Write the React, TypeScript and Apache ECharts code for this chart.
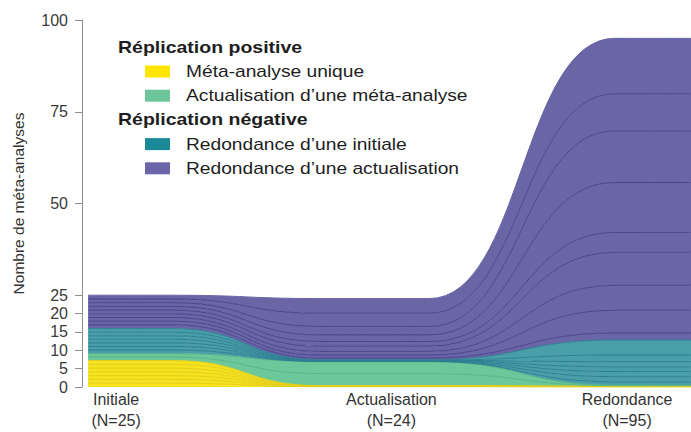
import React, { useEffect, useRef } from 'react';
import * as echarts from 'echarts';

// ---------- data ----------
const stages = ['Initiale', 'Actualisation', 'Redondance'];
const stageN = [25, 24, 95];
const yTicks = [0, 5, 10, 15, 20, 25, 50, 75, 100];

const groupTitles = ['Réplication positive', 'Réplication négative'];
const categoryNames = [
  'Méta-analyse unique',
  'Actualisation d’une méta-analyse',
  'Redondance d’une initiale',
  'Redondance d’une actualisation',
];

// thickness of each flow at [Initiale, Actualisation, Redondance], bottom to top
const uniqueFlows = [
  [1.03, 0.05, 0.03],
  [1.03, 0.05, 0.03],
  [1.03, 0.05, 0.03],
  [1.03, 0.05, 0.03],
  [1.03, 0.05, 0.03],
  [1.03, 0.05, 0.03],
  [1.03, 0.05, 0.03],
];
const updateFlows = [
  [0.95, 3.3, 0.15],
  [0.95, 3.25, 0.15],
];
const redundInitFlows = [
  [0.97, 0.07, 0.9],
  [0.97, 0.07, 1.4],
  [0.97, 0.07, 1.4],
  [0.97, 0.07, 1.3],
  [0.97, 0.07, 1.4],
  [0.97, 0.07, 1.8],
  [0.98, 0.08, 4.1],
];
const redundUpdFlows = [
  [1.01, 0.5, 1.9],
  [1.01, 0.8, 6.2],
  [1.01, 1.0, 6.8],
  [1.01, 1.4, 9.0],
  [1.01, 1.3, 5.4],
  [1.01, 1.8, 13.6],
  [1.01, 2.3, 14.1],
  [1.01, 3.6, 10.1],
  [1.02, 4.0, 15.1],
];

// ---------- layout / style ----------
const STAGE_SPAN = [[1, 15], [39, 57], [87.5, 100]];
const STAGE_LABEL_X = [5.6, 50.8, 89.5];
const FONT = '"Liberation Sans", Arial, Helvetica, sans-serif';

const groupsStyle = [
  { flows: uniqueFlows, fill: '#f6e21e', line: '#e3cf1a', swatch: '#ffe500' },
  { flows: updateFlows, fill: '#6cc79a', line: '#55b489', swatch: '#6cc59a' },
  { flows: redundInitFlows, fill: '#4a9ea9', line: '#2c7f92', swatch: '#1a8a99' },
  { flows: redundUpdFlows, fill: '#6a66a6', line: '#48438e', swatch: '#6b66aa' },
];

export default function App() {
  const ref = useRef<HTMLDivElement>(null);

  useEffect(() => {
    if (!ref.current) return;
    const chart = echarts.init(ref.current, null, { renderer: 'svg' });

    const series: any[] = [];
    groupsStyle.forEach((g, gi) => {
      g.flows.forEach((f, fi) => {
        const isTop = gi === groupsStyle.length - 1 && fi === g.flows.length - 1;
        series.push({
          type: 'line',
          name: categoryNames[gi] + ' ' + (fi + 1),
          stack: 'total',
          smooth: 0.5,
          smoothMonotone: 'x',
          symbol: 'none',
          showSymbol: false,
          silent: true,
          // value first so that stacking happens on the y value
          dimensions: ['value', 'pos'],
          encode: { x: 'pos', y: 'value' },
          data: STAGE_SPAN.flatMap((span, s) => span.map((x) => [f[s], x])),
          lineStyle: { color: isTop ? g.fill : g.line, width: 1 },
          areaStyle: { color: g.fill, opacity: 1 },
        });
      });
    });

    // legend built as graphic
    const graphic: any[] = [];
    const rowH = 24.2;
    const legendTop = 47.3;
    const rows: { kind: 'title' | 'item'; idx: number }[] = [
      { kind: 'title', idx: 0 },
      { kind: 'item', idx: 0 },
      { kind: 'item', idx: 1 },
      { kind: 'title', idx: 1 },
      { kind: 'item', idx: 2 },
      { kind: 'item', idx: 3 },
    ];
    rows.forEach((r, i) => {
      const y = legendTop + i * rowH;
      if (r.kind === 'title') {
        graphic.push({
          type: 'text',
          x: 118,
          y,
          z: 100,
          scaleX: 1.22,
          style: {
            text: groupTitles[r.idx],
            font: `bold 16px ${FONT}`,
            fill: '#1e1e1e',
            verticalAlign: 'middle',
            align: 'left',
          },
        });
      } else {
        graphic.push({
          type: 'rect',
          z: 100,
          shape: { x: 145, y: y - 6, width: 25, height: 12 },
          style: { fill: groupsStyle[r.idx].swatch },
        });
        graphic.push({
          type: 'text',
          x: 186,
          y,
          z: 100,
          scaleX: 1.2,
          style: {
            text: categoryNames[r.idx],
            font: `16px ${FONT}`,
            fill: '#1e1e1e',
            verticalAlign: 'middle',
            align: 'left',
          },
        });
      }
    });

    chart.setOption({
      animation: false,
      grid: {
        left: 82,
        right: 0,
        top: 20,
        bottom: 45,
        containLabel: false,
        outerBoundsMode: 'none',
      },
      xAxis: {
        type: 'value',
        min: 0,
        max: 100,
        axisLine: { show: false },
        axisTick: { show: false },
        splitLine: { show: false },
        axisLabel: {
          customValues: STAGE_LABEL_X,
          margin: 2,
          fontFamily: FONT,
          fontSize: 16,
          lineHeight: 21,
          color: '#333',
          formatter: (v: number) => {
            const i = STAGE_LABEL_X.indexOf(v);
            return i < 0 ? '' : `${stages[i]}\n(N=${stageN[i]})`;
          },
        },
      },
      yAxis: {
        type: 'value',
        min: 0,
        max: 100,
        name: 'Nombre de méta-analyses',
        nameLocation: 'middle',
        nameGap: 56,
        nameTextStyle: { fontFamily: FONT, fontSize: 15.5, color: '#333' },
        axisLine: { show: true, lineStyle: { color: '#8f8f8f', width: 1 } },
        axisTick: { show: true, customValues: yTicks, length: 7, lineStyle: { color: '#8f8f8f' } },
        splitLine: { show: false },
        axisLabel: {
          customValues: yTicks,
          margin: 14,
          fontFamily: FONT,
          fontSize: 16,
          color: '#3a3a3a',
        },
      },
      graphic,
      series,
    });

    return () => chart.dispose();
  }, []);

  return (
    <div
      ref={ref}
      style={{ position: 'fixed', left: 0, top: 0, width: 691, height: 432, background: '#fff' }}
    />
  );
}
